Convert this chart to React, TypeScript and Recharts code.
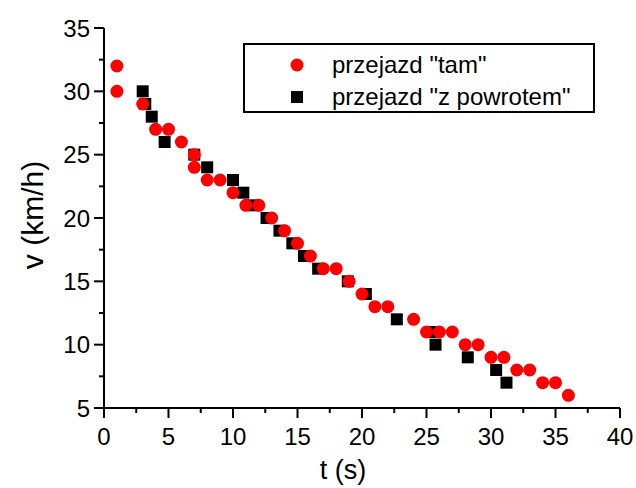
import React from 'react';
import { ScatterChart, Scatter, XAxis, YAxis, Legend } from 'recharts';

const tamT = [1, 1, 3, 4, 5, 6, 7, 7, 8, 9, 10, 11, 12, 13, 14, 15, 16, 17, 18, 19, 20, 21, 22, 24, 25, 26, 27, 28, 29, 30, 31, 32, 33, 34, 35, 36];
const tamV = [32, 30, 29, 27, 27, 26, 25, 24, 23, 23, 22, 21, 21, 20, 19, 18, 17, 16, 16, 15, 14, 13, 13, 12, 11, 11, 11, 10, 10, 9, 9, 8, 8, 7, 7, 6];

const powT = [3, 3.2, 3.7, 4.7, 7, 8, 10, 10.8, 11.6, 12.6, 13.6, 14.6, 15.5, 16.6, 18.9, 20.3, 22.7, 25.3, 25.7, 28.2, 30.4, 31.2];
const powV = [30, 29, 28, 26, 25, 24, 23, 22, 21, 20, 19, 18, 17, 16, 15, 14, 12, 11, 10, 9, 8, 7];

const xTicks = [0, 2.5, 5, 7.5, 10, 12.5, 15, 17.5, 20, 22.5, 25, 27.5, 30, 32.5, 35, 37.5, 40];
const yTicks = [5, 7.5, 10, 12.5, 15, 17.5, 20, 22.5, 25, 27.5, 30, 32.5, 35];

const seriesNames = ['przejazd "tam"', 'przejazd "z powrotem"'];
const xTitle = 't (s)';
const yTitle = 'v (km/h)';

const tamData = tamT.map((t, i) => ({ t, v: tamV[i] }));
const powData = powT.map((t, i) => ({ t, v: powV[i] }));

const FONT = '"Liberation Sans", Arial, Helvetica, sans-serif';

const XTick = (props: any) => {
  const { x, y, payload } = props;
  const major = payload.value % 5 === 0;
  return (
    <g>
      <line x1={x} x2={x} y1={y} y2={y + (major ? 10 : 5)} stroke="#000" strokeWidth={2} />
      {major && (
        <text x={x} y={y + 37} textAnchor="middle" fontSize={24} fontFamily={FONT} fill="#000">
          {payload.value}
        </text>
      )}
    </g>
  );
};

const YTick = (props: any) => {
  const { x, y, payload } = props;
  const major = payload.value % 5 === 0;
  return (
    <g>
      <line x1={x - (major ? 10 : 5)} x2={x} y1={y} y2={y} stroke="#000" strokeWidth={2} />
      {major && (
        <text x={x - 14} y={y + 8.5} textAnchor="end" fontSize={24} fontFamily={FONT} fill="#000">
          {payload.value}
        </text>
      )}
    </g>
  );
};

const RedDot = (p: any) => <circle cx={p.cx} cy={p.cy} r={6.5} fill="#ff0000" />;
const BlackSq = (p: any) => <rect x={p.cx - 6} y={p.cy - 6} width={12} height={12} fill="#000" />;

const LegendBox = () => (
  <svg width={352} height={70} style={{ display: 'block' }}>
    <rect x={1} y={1} width={350} height={68} fill="#fff" stroke="#000" strokeWidth={2} />
    <circle cx={54} cy={22} r={6.5} fill="#ff0000" />
    <text x={89} y={30} fontSize={24} fontFamily={FONT} fill="#000">{seriesNames[0]}</text>
    <rect x={48} y={48} width={12} height={12} fill="#000" />
    <text x={89} y={62} fontSize={24} fontFamily={FONT} fill="#000">{seriesNames[1]}</text>
  </svg>
);

export default function App() {
  return (
    <div style={{ position: 'absolute', left: 0, top: 0, width: 636, height: 488, background: '#fff' }}>
      <ScatterChart width={636} height={488} margin={{ top: 28, right: 16, bottom: 0, left: 0 }}>
        <XAxis
          type="number"
          dataKey="t"
          domain={[0, 40]}
          ticks={xTicks}
          interval={0}
          height={80}
          tickSize={0}
          tickMargin={0}
          tick={<XTick />}
          axisLine={{ stroke: '#000', strokeWidth: 2 }}
          tickLine={false}
          allowDataOverflow
          label={{
            content: (lp: any) => {
              const vb = lp.viewBox;
              return (
                <text x={vb.x + vb.width / 2 - 19} y={vb.y + 71} textAnchor="middle" fontSize={27} fontFamily={FONT} fill="#000">
                  {xTitle}
                </text>
              );
            },
          }}
        />
        <YAxis
          type="number"
          dataKey="v"
          domain={[5, 35]}
          ticks={yTicks}
          interval={0}
          width={104}
          tickSize={0}
          tickMargin={0}
          tick={<YTick />}
          axisLine={{ stroke: '#000', strokeWidth: 2 }}
          tickLine={false}
          allowDataOverflow
          label={{
            content: (lp: any) => {
              const vb = lp.viewBox;
              const cx = 43;
              const cy = vb.y + vb.height / 2 - 3;
              return (
                <text x={cx} y={cy} transform={`rotate(-90 ${cx} ${cy})`} textAnchor="middle" fontSize={30} fontFamily={FONT} fill="#000">
                  {yTitle}
                </text>
              );
            },
          }}
        />
        <Legend
          verticalAlign="middle"
          align="center"
          layout="horizontal"
          wrapperStyle={{ left: 243, top: 43, width: 352, height: 70 }}
          content={() => <LegendBox />}
        />
        <Scatter name={seriesNames[1]} data={powData} shape={<BlackSq />} isAnimationActive={false} />
        <Scatter name={seriesNames[0]} data={tamData} shape={<RedDot />} isAnimationActive={false} />
      </ScatterChart>
    </div>
  );
}
